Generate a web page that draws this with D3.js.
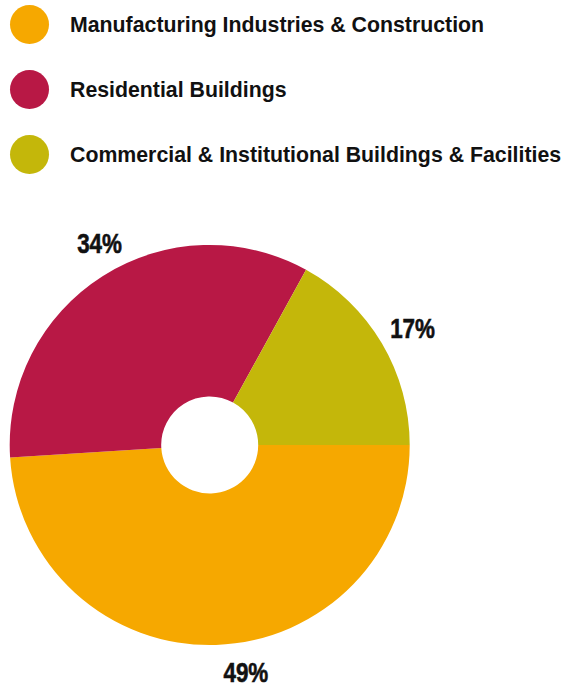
<!DOCTYPE html>
<html>
<head>
<meta charset="utf-8">
<script src="https://cdn.jsdelivr.net/npm/d3@7"></script>
<style>
  html, body { margin: 0; padding: 0; background: #fff; }
  svg { display: block; }
  .legend-text { font-family: "Liberation Sans", Arial, sans-serif; font-weight: bold; font-size: 21.3px; fill: #111; }
  .pct { font-family: "Liberation Sans", Arial, sans-serif; font-weight: bold; font-size: 28px; fill: #111; stroke: #111; stroke-width: 0.6px; }
</style>
</head>
<body>
<svg id="chart" width="568" height="688"></svg>
<script>
// Energy-use shares by sector
const categories = [
  "Manufacturing Industries & Construction",
  "Residential Buildings",
  "Commercial & Institutional Buildings & Facilities"
];
const values = [49, 34, 17];
const colors = ["#F6A800", "#B81845", "#C4B70A"];
const labels = ["49%", "34%", "17%"];

const svg = d3.select("#chart");

// Legend
const legend = svg.append("g");
const legendY = d3.scalePoint().domain(categories).range([24.5, 154.5]);
const item = legend.selectAll("g.item")
  .data(categories)
  .join("g")
  .attr("class", "item")
  .attr("transform", d => `translate(0,${legendY(d)})`);
item.append("circle")
  .attr("cx", 29.5).attr("cy", 0).attr("r", 19.5)
  .attr("fill", (d, i) => colors[i]);
item.append("text")
  .attr("class", "legend-text")
  .attr("x", 70).attr("y", 7)
  .text(d => d);

// Donut
const cx = 209.7, cy = 445, rOuter = 200, rInner = 48.5;
const pie = d3.pie()
  .sort(null)
  .value(d => d)
  .startAngle(Math.PI / 2)
  .endAngle(Math.PI / 2 + 2 * Math.PI);
const arcs = pie(values);
const arc = d3.arc().innerRadius(rInner).outerRadius(rOuter);

const g = svg.append("g").attr("transform", `translate(${cx},${cy})`);
g.selectAll("path")
  .data(arcs)
  .join("path")
  .attr("d", arc)
  .attr("fill", (d, i) => colors[i]);

// Percentage labels outside the ring, drawn in a narrowed bold face
const labelR = 228;
const labelNudge = [[29, 9], [12, 0.5], [6.6, 9]];
g.selectAll("text.pct")
  .data(arcs)
  .join("text")
  .attr("class", "pct")
  .attr("text-anchor", "middle")
  .attr("transform", (d, i) => {
    const a = (d.startAngle + d.endAngle) / 2;
    const x = Math.sin(a) * labelR + labelNudge[i][0];
    const y = -Math.cos(a) * labelR + labelNudge[i][1];
    return `translate(${x},${y}) scale(0.8,1)`;
  })
  .text((d, i) => labels[i]);
</script>
</body>
</html>
